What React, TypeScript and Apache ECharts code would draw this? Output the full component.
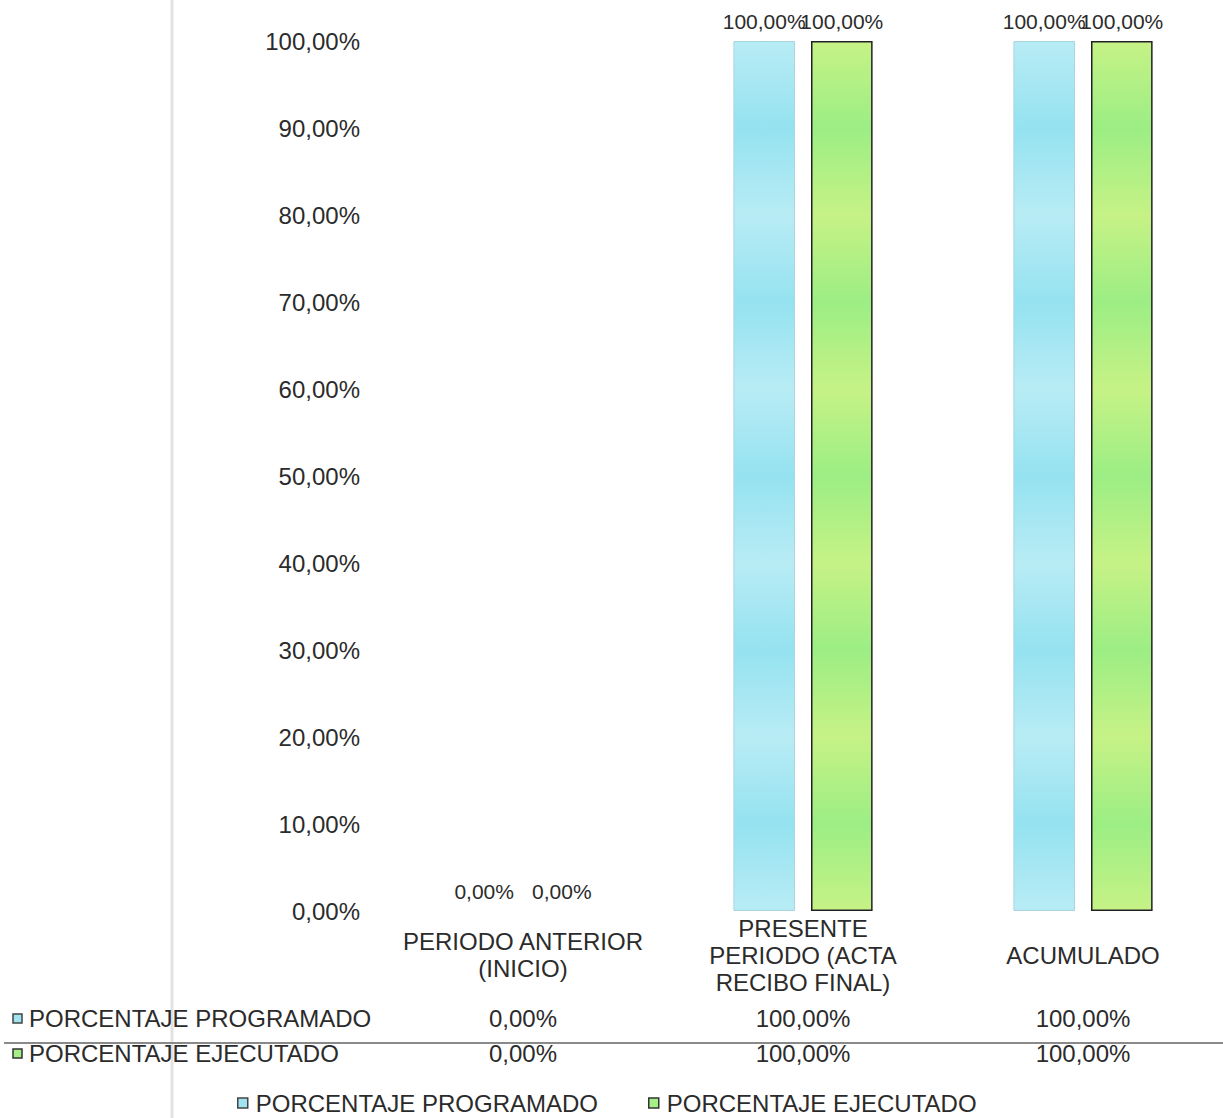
import React, { useEffect, useRef } from "react";
import * as echarts from "echarts";

const categories = [
  "PERIODO ANTERIOR\n(INICIO)",
  "PRESENTE\nPERIODO (ACTA\nRECIBO FINAL)",
  "ACUMULADO",
];
const seriesNames = ["PORCENTAJE PROGRAMADO", "PORCENTAJE EJECUTADO"];
const programado = [0, 100, 100];
const ejecutado = [0, 100, 100];
const yTicks = { min: 0, max: 100, interval: 10 };

const fmt = (v: number) => v.toFixed(2).replace(".", ",") + "%";

const FONT = "Liberation Sans, Arial, sans-serif";
const TXT = "#2b2b2b";
const FS = 24;

const bands = (a: string, b: string) =>
  new echarts.graphic.LinearGradient(0, 0, 0, 1, [
    { offset: 0, color: a },
    { offset: 0.1, color: b },
    { offset: 0.2, color: a },
    { offset: 0.3, color: b },
    { offset: 0.4, color: a },
    { offset: 0.5, color: b },
    { offset: 0.6, color: a },
    { offset: 0.7, color: b },
    { offset: 0.8, color: a },
    { offset: 0.9, color: b },
    { offset: 1, color: a },
  ]);
const cyanFill = bands("#b8ecf5", "#95e2f0");
const greenFill = bands("#c6f286", "#9cee84");

const toData = (vals: number[]) =>
  vals.map((v) => (v === 0 ? { value: v, itemStyle: { borderWidth: 0, opacity: 0 } } : v));

export default function App() {
  const ref = useRef<HTMLDivElement>(null);
  useEffect(() => {
    document.body.style.margin = "0";
    const chart = echarts.init(ref.current!, undefined, { renderer: "svg" });
    const tableAxis = (vals: number[], offset: number) => ({
      type: "category",
      data: vals.map(fmt),
      position: "bottom",
      offset,
      axisLine: { show: false },
      axisTick: { show: false },
      axisLabel: {
        margin: 0,
        verticalAlign: "middle",
        fontFamily: FONT,
        fontSize: FS,
        color: TXT,
      },
    });
    const barLabel = {
      show: true,
      position: "top",
      distance: 9,
      formatter: (p: any) => fmt(p.value),
      fontFamily: FONT,
      fontSize: 21,
      color: TXT,
      opacity: 1,
    };
    chart.setOption({
      animation: false,
      backgroundColor: "#ffffff",
      grid: { left: 383, top: 41, width: 846, height: 870, containLabel: false },
      xAxis: [
        {
          type: "category",
          data: categories,
          axisLine: { show: false },
          axisTick: { show: false },
          axisLabel: {
            margin: 44,
            verticalAlign: "middle",
            lineHeight: 27,
            fontFamily: FONT,
            fontSize: FS,
            color: TXT,
            interval: 0,
          },
        },
        tableAxis(programado, 107),
        tableAxis(ejecutado, 142),
      ],
      yAxis: {
        type: "value",
        min: yTicks.min,
        max: yTicks.max,
        interval: yTicks.interval,
        axisLine: { show: false },
        axisTick: { show: false },
        splitLine: { show: false },
        axisLabel: {
          margin: 23,
          formatter: (v: number) => fmt(v),
          fontFamily: FONT,
          fontSize: FS,
          color: TXT,
        },
      },
      legend: {
        left: 232,
        top: 1086,
        itemWidth: 10,
        itemHeight: 10,
        itemGap: 50,
        icon: "rect",
        textStyle: { fontFamily: FONT, fontSize: FS, color: TXT, padding: [0, 0, 0, 3] },
        data: [
          { name: seriesNames[0], itemStyle: { color: "#9fe4f0", borderColor: "#444", borderWidth: 1.5 } },
          { name: seriesNames[1], itemStyle: { color: "#a6ee86", borderColor: "#333", borderWidth: 1.5 } },
        ],
      },
      series: [
        {
          name: seriesNames[0],
          type: "bar",
          data: toData(programado),
          barWidth: "22%",
          barGap: "26%",
          itemStyle: { color: cyanFill, borderColor: "#a9d6de", borderWidth: 1 },
          label: barLabel,
        },
        {
          name: seriesNames[1],
          type: "bar",
          data: toData(ejecutado),
          barWidth: "22%",
          barGap: "26%",
          itemStyle: { color: greenFill, borderColor: "#222", borderWidth: 1.5 },
          label: barLabel,
        },
      ],
      graphic: [
        {
          type: "line",
          shape: { x1: 172, y1: 0, x2: 172, y2: 1118 },
          style: { stroke: "#e2e2e2", lineWidth: 3 },
          z: -1,
        },
        {
          type: "line",
          shape: { x1: 4, y1: 1043, x2: 1223, y2: 1043 },
          style: { stroke: "#8a8a8a", lineWidth: 2 },
        },
        {
          type: "rect",
          shape: { x: 13, y: 1014, width: 9, height: 9 },
          style: { fill: "#9fe4f0", stroke: "#444", lineWidth: 1.5 },
        },
        {
          type: "text",
          x: 29,
          y: 1018,
          style: { text: seriesNames[0], fontFamily: FONT, fontSize: FS, fill: TXT, verticalAlign: "middle" },
        },
        {
          type: "rect",
          shape: { x: 13, y: 1049, width: 9, height: 9 },
          style: { fill: "#a6ee86", stroke: "#333", lineWidth: 1.5 },
        },
        {
          type: "text",
          x: 29,
          y: 1053,
          style: { text: seriesNames[1], fontFamily: FONT, fontSize: FS, fill: TXT, verticalAlign: "middle" },
        },
      ],
    });
    return () => chart.dispose();
  }, []);
  return <div ref={ref} style={{ width: 1223, height: 1118 }} />;
}
